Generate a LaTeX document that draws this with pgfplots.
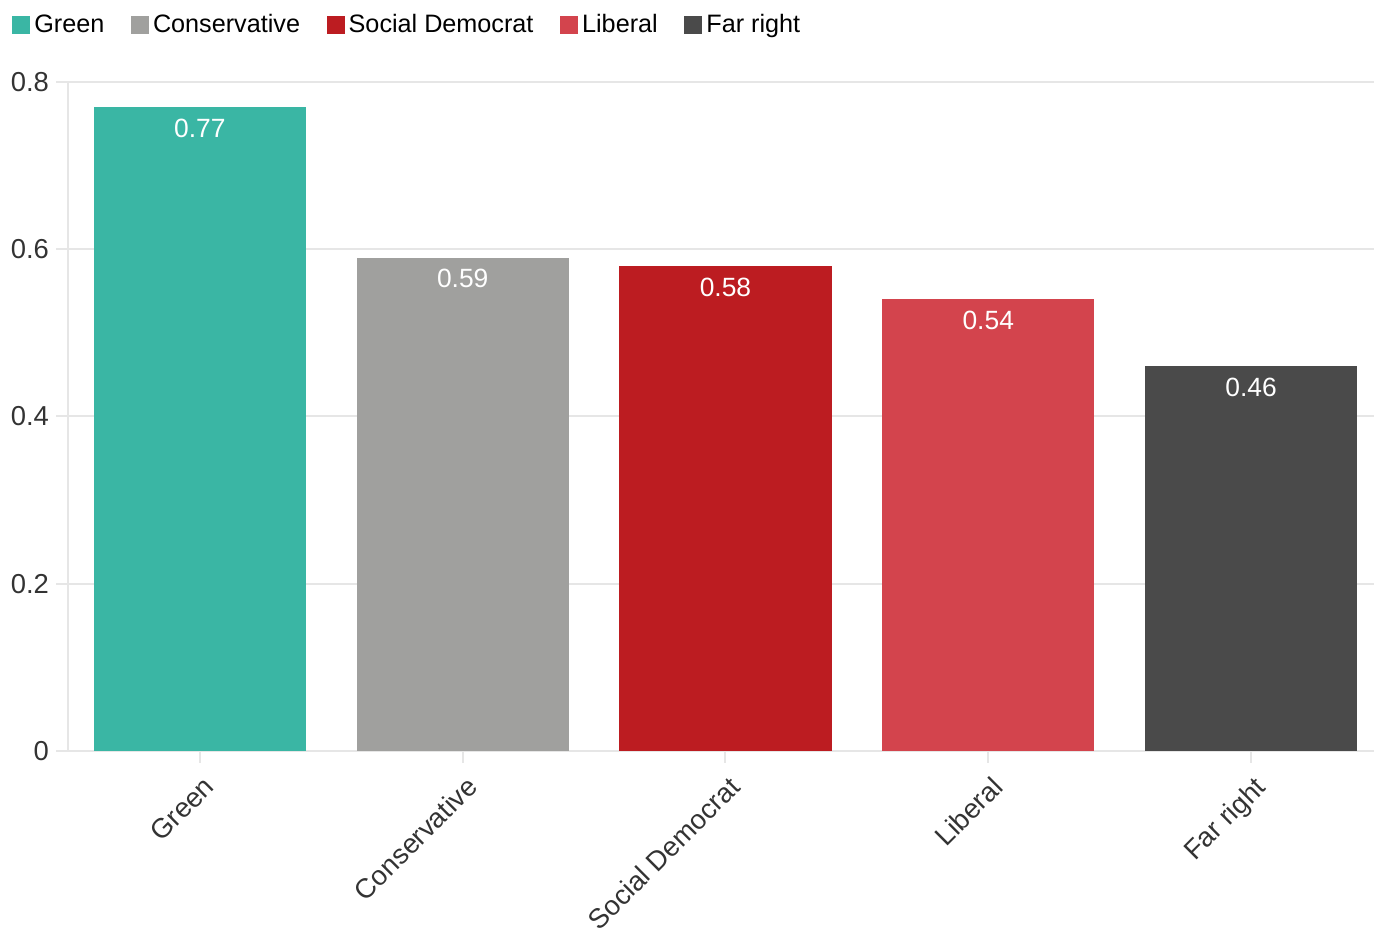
\documentclass[border=0pt]{standalone}
\usepackage{pgfplots}
\pgfplotsset{compat=1.18}
\usepackage{fontspec}
\setmainfont{Liberation Sans}
\definecolor{cGreen}{RGB}{58,182,164}
\definecolor{cCons}{RGB}{160,160,158}
\definecolor{cSD}{RGB}{188,28,33}
\definecolor{cLib}{RGB}{211,68,77}
\definecolor{cFar}{RGB}{74,74,74}
\definecolor{gridc}{RGB}{230,230,230}
\definecolor{tickc}{RGB}{51,51,51}
\begin{document}
\begin{tikzpicture}
\begin{axis}[
  name=ax,
  width=653pt, height=334.5pt, scale only axis,
  xmin=-0.502, xmax=4.468, ymin=0, ymax=0.8,
  ybar, bar width=0.807, bar shift=0pt,
  axis x line*=bottom, axis y line*=left,
  axis line style={gridc, line width=1pt},
  xtick={0,1,2,3,4},
  xticklabels={Green,Conservative,Social Democrat,Liberal,Far right},
  ytick={0,0.2,0.4,0.6,0.8},
  yticklabels={0,0.2,0.4,0.6,0.8},
  ymajorgrids,
  grid style={gridc, line width=1pt},
  tick align=outside,
  major tick length=6pt,
  tick style={gridc, line width=1pt},
  ticklabel style={font=\fontsize{13.7}{16}\selectfont, text=tickc},
  xticklabel style={rotate=45, anchor=north east, yshift=-1.5pt},
  /pgf/number format/assume math mode=true,
  nodes near coords,
  nodes near coords style={white, anchor=center, yshift=-10.5pt, font=\fontsize{13.2}{15}\selectfont},
  legend columns=-1,
  legend image code/.code={\fill[#1] (0pt,-4.5pt) rectangle (9pt,4.5pt);},
  legend style={at={(axis description cs:-0.0429,1.0852)}, anchor=west, draw=none, fill=none,
    inner sep=0pt, font=\fontsize{12.6}{15}\selectfont, text=black,
    /tikz/every even column/.append style={column sep=11.3pt}},
]
\addplot[fill=cGreen, draw=none] coordinates {(0,0.77)};
\addlegendentry{Green}
\addplot[fill=cCons, draw=none] coordinates {(1,0.59)};
\addlegendentry{Conservative}
\addplot[fill=cSD, draw=none] coordinates {(2,0.58)};
\addlegendentry{Social Democrat}
\addplot[fill=cLib, draw=none] coordinates {(3,0.54)};
\addlegendentry{Liberal}
\addplot[fill=cFar, draw=none] coordinates {(4,0.46)};
\addlegendentry{Far right}
\end{axis}
\pgfresetboundingbox
\path[use as bounding box] ([xshift=-34pt,yshift=-90pt]ax.south west) rectangle ([yshift=375.5pt]ax.south east);
\end{tikzpicture}
\end{document}
